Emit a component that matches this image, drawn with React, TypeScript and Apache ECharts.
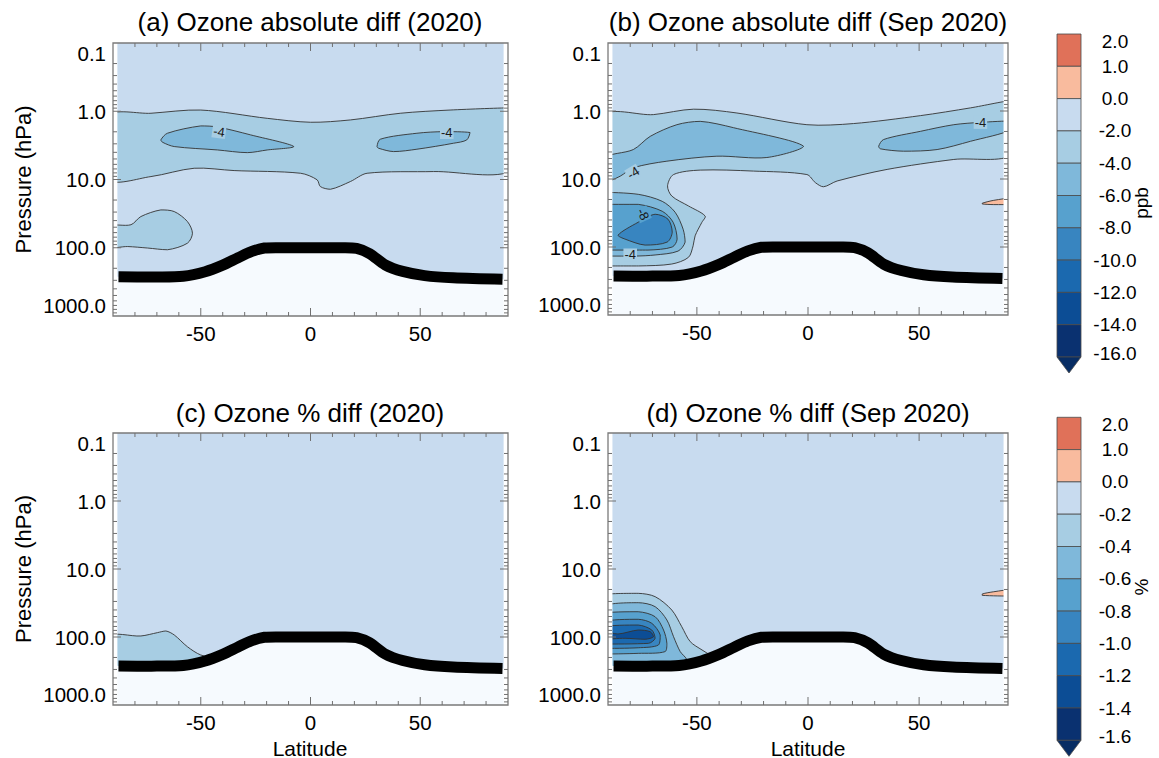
import React, { useEffect, useRef } from "react";
import * as echarts from "echarts";

type Pt = [number, number];
type Region = { pts: Pt[]; level: number };
type Label = [number, number, string, number, string];

const FONT = "'Liberation Sans', Arial, Helvetica, sans-serif";

const TITLES = [
  "(a) Ozone absolute diff (2020)",
  "(b) Ozone absolute diff (Sep 2020)",
  "(c) Ozone % diff (2020)",
  "(d) Ozone % diff (Sep 2020)",
];

// colour-bar tick labels (top to bottom)
const PPB_TICKS = ["2.0", "1.0", "0.0", "-2.0", "-4.0", "-6.0", "-8.0", "-10.0", "-12.0", "-14.0", "-16.0"];
const PCT_TICKS = ["2.0", "1.0", "0.0", "-0.2", "-0.4", "-0.6", "-0.8", "-1.0", "-1.2", "-1.4", "-1.6"];
// colour of each level band (top to bottom of the colour bar)
const LEVEL_COLORS = ["#e07159", "#f9bb9e", "#c8dbef", "#a7cde3", "#7fb8da", "#57a1ce", "#3885c0", "#1b69af", "#0c4d95", "#0a3170"];
const BELOW_COLOR = "#082d64";
const MASK_COLOR = "#f6fafe";

// axis ticks
const LAT_MAJOR = [-50, 0, 50];
const LAT_MINOR = [-80, -70, -60, -40, -30, -20, -10, 10, 20, 30, 40, 60, 70, 80];
const P_MAJOR = [1, 10, 100];
const P_MINOR = [0.2, 0.3, 0.4, 0.5, 0.6, 0.7, 0.8, 0.9, 2, 3, 4, 5, 6, 7, 8, 9, 20, 30, 40, 50, 60, 70, 80, 90, 200, 300, 400, 500, 600, 700, 800, 900];

// tropopause (lat, hPa)
const TROPOPAUSE: Pt[] = [
  [-87.5, 266], [-70, 268], [-58, 262], [-48, 225], [-40, 180], [-33, 140], [-27, 114], [-21, 101],
  [-15, 100], [0, 100], [15, 100], [21, 102], [27, 122], [34, 178], [42, 222], [52, 256],
  [65, 276], [87.5, 290],
];

// ---- panel (a): contour regions (lat, hPa)
const A_BAND: Pt[] = [
  [-92, 1.17], [-72.7, 1.07], [-50, 0.96], [-19.7, 1.27], [0, 1.45], [18.2, 1.34], [40.9, 1.07], [63.6, 0.96], [92, 0.89],
  [92, 7.2], [56.1, 7.65], [25.8, 8.1], [18.2, 10.7], [9.1, 13.9], [4.5, 12.7], [3, 10.1], [-4.5, 8.1], [-34.8, 7.4], [-53, 6.84], [-72.7, 9.06], [-92, 9.95],
];
const A_BLOB_W: Pt[] = [
  [-68.2, 2.63], [-65.2, 2.1], [-50, 1.64], [-42.4, 1.7], [-27.3, 2.22], [-7.6, 3.29], [-19.7, 3.69], [-28.8, 4.04], [-42.4, 3.69], [-62.1, 3.29], [-67.4, 2.85],
];
const A_BLOB_E: Pt[] = [
  [30.3, 3.29], [31.8, 2.57], [48.5, 2.1], [60.6, 1.99], [72.7, 2.05], [71.2, 2.63], [65.2, 2.94], [48.5, 3.6], [37.9, 3.9], [31.1, 3.49],
];
const A_BLOB_SP: Pt[] = [
  [-92, 48.9], [-81.8, 46], [-77.3, 34.9], [-68.2, 27.9], [-62.1, 29.5], [-56.1, 41.3], [-53.8, 61.2], [-56.1, 85.8], [-65.2, 107], [-74.2, 101], [-83.3, 96], [-92, 96],
];
const A_LABELS: Label[] = [
  [-41.7, 1.99, "-4", -8, "#a7cde3"],
  [62.1, 2.05, "-4", 0, "#a7cde3"],
];

// ---- panel (b)
const B_BAND: Pt[] = [
  [-92, 1.22], [-69.5, 1.13], [-51.5, 0.94], [-32, 1.07], [-0.5, 1.59], [20.5, 1.53], [50.6, 1.17], [73.1, 0.9], [92, 0.7],
  [92, 4.3], [65.6, 5.16], [35.6, 7.23], [13.1, 10.7], [7, 13], [3.3, 11.3], [-0.5, 8.6], [-24.5, 7.65], [-48.5, 7.4], [-60.5, 8.6],
  [-63.2, 12.6], [-61.3, 17.8], [-53.8, 24.9], [-46.3, 35], [-47.8, 43.6], [-50.8, 68.5], [-51.7, 96], [-53.8, 142], [-61.3, 178], [-76.3, 190], [-92, 190],
];
const B_NW: Pt[] = [
  [-92, 5.0], [-78.6, 3.69], [-71, 2.36], [-59, 1.59], [-48.5, 1.42], [-33.5, 1.76], [-2, 3.3], [-18.5, 4.83], [-41, 4.62], [-63.5, 5.47], [-78.6, 6.84], [-84.5, 9.08], [-92, 11.5],
];
const B_NE: Pt[] = [
  [31.8, 3.3], [34, 2.63], [50.6, 1.99], [65.6, 1.59], [77.6, 1.47], [92, 1.4], [92, 1.86], [73.1, 2.79], [58.1, 3.69], [43, 3.9], [32.6, 3.6],
];
const B_SP1: Pt[] = [
  [-92, 15.7], [-76.4, 16.8], [-65.6, 21.3], [-59.8, 30.8], [-56.2, 54.7], [-55.3, 84.7], [-58.5, 115], [-68.8, 131], [-77.8, 136], [-92, 136],
];
const B_SP2: Pt[] = [
  [-92, 23.6], [-76.4, 23.6], [-65.6, 29.8], [-60.7, 43.2], [-58.9, 76.6], [-61.1, 100], [-72, 111], [-92, 111],
];
const B_SP3: Pt[] = [
  [-85.5, 67], [-76.4, 43.2], [-68.8, 33], [-63, 39], [-61.1, 60.5], [-63.4, 84.7], [-73.3, 93.7], [-82.3, 76.6],
];
const B_POS: Pt[] = [
  [78.4, 22.7], [83.6, 20.6], [92, 19.0], [92, 23.8], [83.6, 23.8], [78.4, 23.3],
];
const B_LABELS: Label[] = [
  [-78.6, 8.1, "-4", 32, "#a7cde3"],
  [-74.2, 33, "-8", -65, "#57a1ce"],
  [-80, 131, "-4", 0, "#a7cde3"],
  [77.6, 1.47, "-4", 0, "#a7cde3"],
];

// ---- panel (c)
const C_SP: Pt[] = [
  [-92, 99], [-77.3, 96.6], [-69.7, 86.2], [-65.9, 81.6], [-62.1, 93.3], [-56.1, 139], [-50, 184], [-42.4, 206], [-38, 230], [-38, 500], [-92, 500],
];

// ---- panel (d)
const D1: Pt[] = [
  [-92, 24.1], [-76.4, 22.8], [-68.8, 25.5], [-61.3, 40.1], [-56.8, 70.6], [-53, 117], [-47.7, 155], [-43.2, 190], [-40, 215], [-40, 500], [-92, 500],
];
const D2: Pt[] = [
  [-92, 36], [-76.4, 31.3], [-68.8, 35.8], [-63.5, 56.2], [-60.5, 99], [-57.5, 164], [-54.5, 218], [-54, 500], [-92, 500],
];
const D3: Pt[] = [
  [-92, 45], [-76.4, 42.5], [-68.8, 50.3], [-65, 78.9], [-63.5, 124], [-64.3, 164], [-76.4, 174], [-92, 178],
];
const D4: Pt[] = [
  [-92, 60], [-76.4, 54.9], [-70.3, 62.9], [-66.5, 93.5], [-67.3, 131], [-76.4, 144], [-92, 147],
];
const D5: Pt[] = [
  [-92, 71], [-76.4, 66.7], [-70.3, 78.9], [-68.8, 104.5], [-71.8, 124], [-92, 127],
];
const D6: Pt[] = [
  [-92, 84], [-85.5, 90.3], [-76.4, 78.9], [-71, 83.6], [-69.5, 99], [-73.3, 108], [-82.3, 104.5], [-92, 107],
];
const D_POS: Pt[] = [
  [78.4, 23.3], [83.6, 21.6], [92, 20.0], [92, 25], [78.4, 24.4],
];

const PANELS: { regions: Region[]; labels: Label[] }[] = [
  { regions: [{ pts: A_BAND, level: 3 }, { pts: A_BLOB_W, level: 4 }, { pts: A_BLOB_E, level: 4 }, { pts: A_BLOB_SP, level: 3 }], labels: A_LABELS },
  {
    regions: [
      { pts: B_BAND, level: 3 }, { pts: B_NW, level: 4 }, { pts: B_NE, level: 4 },
      { pts: B_SP1, level: 4 }, { pts: B_SP2, level: 5 }, { pts: B_SP3, level: 6 }, { pts: B_POS, level: 1 },
    ],
    labels: B_LABELS,
  },
  { regions: [{ pts: C_SP, level: 3 }], labels: [] },
  {
    regions: [
      { pts: D1, level: 3 }, { pts: D2, level: 4 }, { pts: D3, level: 5 }, { pts: D4, level: 6 },
      { pts: D5, level: 7 }, { pts: D6, level: 8 }, { pts: D_POS, level: 1 },
    ],
    labels: [],
  },
];

// layout
const GRIDS = [
  { left: 113, top: 43, width: 395, height: 273 },
  { left: 608, top: 43, width: 400, height: 272 },
  { left: 113, top: 433, width: 395, height: 272 },
  { left: 608, top: 433, width: 400, height: 272 },
];
const TITLE_POS: Pt[] = [[310, 9], [808, 9], [310, 400], [808, 400]];

const BG: Pt[] = [[-92, 0.1], [92, 0.1], [92, 1000], [-92, 1000]];
const EDGE_W: Pt[] = [[-92, 0.1], [-88, 0.1], [-88, 1000], [-92, 1000]];
const EDGE_E: Pt[] = [[88, 0.1], [92, 0.1], [92, 1000], [88, 1000]];
const MASK: Pt[] = [[-92, TROPOPAUSE[0][1]], ...TROPOPAUSE, [92, TROPOPAUSE[TROPOPAUSE.length - 1][1]], [92, 1000], [-92, 1000]];

function buildOption() {
  const series: any[] = [];
  PANELS.forEach((panel, i) => {
    const items = [
      { pts: BG, color: LEVEL_COLORS[2], line: false, smooth: 0 },
      ...panel.regions.map((r) => ({ pts: r.pts, color: LEVEL_COLORS[r.level], line: true, smooth: 0.3 })),
      { pts: MASK, color: MASK_COLOR, line: false, smooth: 0.3 },
      { pts: EDGE_W, color: "#ffffff", line: false, smooth: 0 },
      { pts: EDGE_E, color: "#ffffff", line: false, smooth: 0 },
    ];
    series.push({
      type: "custom",
      xAxisIndex: i,
      yAxisIndex: i,
      clip: true,
      silent: true,
      z: 1,
      data: items.map(() => [0, 1]),
      renderItem: (params: any, api: any) => {
        const it = items[params.dataIndex];
        const points = it.pts.map((p) => api.coord(p));
        const shape: any = { points };
        if (it.smooth) {
          shape.smooth = it.smooth;
          shape.smoothConstraint = [points[0].slice(), points[0].slice()];
        }
        return {
          type: "polygon",
          shape,
          style: { fill: it.color, stroke: it.line ? "#333333" : "none", lineWidth: 0.9 },
        };
      },
    });
    // tropopause as a smooth open polyline
    series.push({
      type: "custom",
      xAxisIndex: i,
      yAxisIndex: i,
      silent: true,
      z: 3,
      data: [[0, 100]],
      renderItem: (params: any, api: any) => {
        const points = TROPOPAUSE.map((p) => api.coord(p));
        return {
          type: "polyline",
          shape: { points, smooth: 0.3, smoothConstraint: [points[0].slice(), points[0].slice()] },
          style: { fill: "none", stroke: "#000000", lineWidth: 11, lineJoin: "round" },
        };
      },
    });
    if (panel.labels.length) {
      series.push({
        type: "custom",
        xAxisIndex: i,
        yAxisIndex: i,
        silent: true,
        z: 4,
        data: panel.labels.map((l) => [l[0], l[1]]),
        renderItem: (params: any, api: any) => {
          const l = panel.labels[params.dataIndex];
          const c = api.coord([l[0], l[1]]);
          return {
            type: "text",
            x: c[0],
            y: c[1],
            rotation: (l[3] * Math.PI) / 180,
            style: {
              text: l[2],
              fill: "#1a1a1a",
              font: `13px ${FONT}`,
              align: "center",
              verticalAlign: "middle",
              backgroundColor: l[4],
              padding: [0, 1],
            },
          };
        },
      });
    }
    const tickData = [
      [0, 1, 4],
      ...LAT_MINOR.map((v) => [v, 1, 0]),
      ...LAT_MAJOR.map((v) => [v, 1, 1]),
      ...P_MINOR.map((v) => [0, v, 2]),
      ...P_MAJOR.map((v) => [0, v, 3]),
    ];
    series.push({
      type: "custom",
      xAxisIndex: i,
      yAxisIndex: i,
      silent: true,
      clip: false,
      z: 5,
      data: tickData,
      renderItem: (params: any, api: any) => {
        const cs = params.coordSys;
        const kind = api.value(2);
        const st = { stroke: "#707070", lineWidth: 1 };
        if (kind === 4) {
          return {
            type: "rect",
            shape: { x: cs.x, y: cs.y, width: cs.width, height: cs.height },
            style: { fill: "none", stroke: "#7a7a7a", lineWidth: 1.3 },
          };
        }
        const len = kind === 1 || kind === 3 ? 8 : 4;
        if (kind < 2) {
          const x = api.coord([api.value(0), 1])[0];
          return {
            type: "group",
            children: [
              { type: "line", shape: { x1: x, y1: cs.y + cs.height, x2: x, y2: cs.y + cs.height - len }, style: st },
              { type: "line", shape: { x1: x, y1: cs.y, x2: x, y2: cs.y + len }, style: st },
            ],
          };
        }
        const y = api.coord([0, api.value(1)])[1];
        return {
          type: "group",
          children: [
            { type: "line", shape: { x1: cs.x, y1: y, x2: cs.x + len, y2: y }, style: st },
            { type: "line", shape: { x1: cs.x + cs.width, y1: y, x2: cs.x + cs.width - len, y2: y }, style: st },
          ],
        };
      },
    });
  });

  const textStyle = (size: number) => ({
    fill: "#000",
    font: `${size}px ${FONT}`,
    align: "center",
    verticalAlign: "middle",
  });

  const graphic: any[] = [];
  // axis names
  [179.5, 569].forEach((y) => {
    graphic.push({ type: "text", x: 23, y, rotation: Math.PI / 2, style: { text: "Pressure (hPa)", ...textStyle(22) } });
  });
  [310, 808].forEach((x) => {
    graphic.push({ type: "text", x, y: 748, style: { text: "Latitude", ...textStyle(21) } });
  });
  // colour bars
  const CB_X = 1057;
  const CB_W = 24;
  const CB_H = 32.3;
  const bars: [number, string[], string, number][] = [
    [34, PPB_TICKS, "ppb", 203],
    [417.3, PCT_TICKS, "%", 587],
  ];
  bars.forEach(([y0, ticks, unit, unitY]) => {
    LEVEL_COLORS.forEach((c, k) => {
      graphic.push({
        type: "rect",
        shape: { x: CB_X, y: y0 + k * CB_H, width: CB_W, height: CB_H },
        style: { fill: c, stroke: "#4a4a4a", lineWidth: 0.8 },
      });
    });
    const yb = y0 + LEVEL_COLORS.length * CB_H;
    graphic.push({
      type: "polygon",
      shape: { points: [[CB_X, yb], [CB_X + CB_W, yb], [CB_X + CB_W / 2, yb + 16]] },
      style: { fill: BELOW_COLOR, stroke: "#4a4a4a", lineWidth: 0.8 },
    });
    ticks.forEach((t, k) => {
      const y = k === 0 ? y0 + 7 : k === ticks.length - 1 ? yb - 4 : y0 + k * CB_H;
      graphic.push({ type: "text", x: 1115, y, style: { text: t, ...textStyle(19) } });
    });
    graphic.push({ type: "text", x: 1141, y: unitY, rotation: Math.PI / 2, style: { text: unit, ...textStyle(19) } });
  });

  return {
    animation: false,
    backgroundColor: "#ffffff",
    title: TITLES.map((t, i) => ({
      text: t,
      left: TITLE_POS[i][0],
      top: TITLE_POS[i][1],
      textAlign: "center",
      textVerticalAlign: "top",
      padding: 0,
      textStyle: { fontSize: 26, fontWeight: "normal", color: "#000", fontFamily: FONT },
    })),
    grid: GRIDS.map((g) => ({ ...g, show: false, containLabel: false })),
    xAxis: GRIDS.map((_, i) => ({
      type: "value",
      gridIndex: i,
      min: -90,
      max: 90,
      interval: 10,
      axisLine: { show: false },
      axisTick: { show: false },
      splitLine: { show: false },
      axisLabel: {
        margin: 7,
        fontSize: 20.5,
        color: "#000",
        fontFamily: FONT,
        formatter: (v: number) => (LAT_MAJOR.includes(v) ? String(v) : ""),
      },
    })),
    yAxis: GRIDS.map((_, i) => ({
      type: "log",
      logBase: 10,
      gridIndex: i,
      min: 0.1,
      max: 1000,
      inverse: true,
      splitNumber: 4,
      axisLine: { show: false },
      axisTick: { show: false },
      splitLine: { show: false },
      axisLabel: {
        margin: 7,
        fontSize: 20.5,
        color: "#000",
        fontFamily: FONT,
        verticalAlignMinLabel: "top",
        verticalAlignMaxLabel: "bottom",
        formatter: (v: number) => Number(v).toFixed(1),
      },
    })),
    graphic,
    series,
  };
}

export default function App() {
  const ref = useRef<HTMLDivElement>(null);
  useEffect(() => {
    if (!ref.current) return;
    const chart = echarts.init(ref.current, null, { renderer: "svg" });
    chart.setOption(buildOption() as any);
    return () => chart.dispose();
  }, []);
  return (
    <div
      ref={ref}
      style={{ position: "fixed", left: 0, top: 0, width: 1159, height: 758, background: "#fff" }}
    />
  );
}
